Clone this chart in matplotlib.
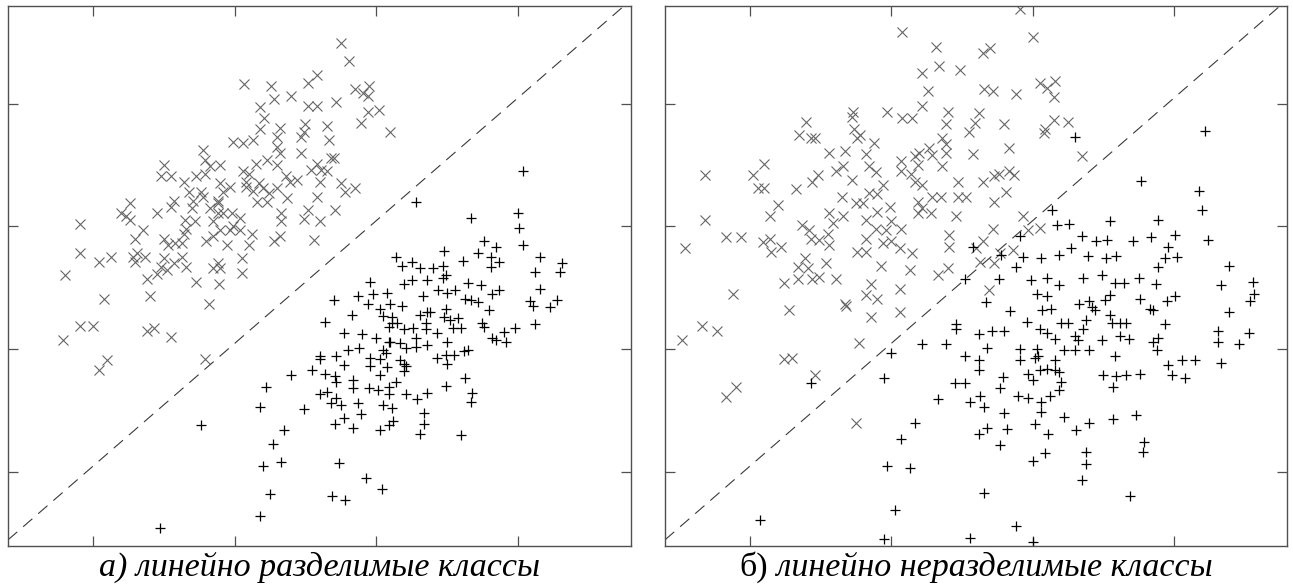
import matplotlib.pyplot as plt
import numpy as np

# Panel a): linearly separable classes (x = class 1, + = class 2)
sep_cross = np.array([
    (2.07, 4.16), (2.26, 4.14), (2.28, 4.04), (2.40, 4.06), (2.18, 3.97), (2.21, 3.88),
    (2.18, 3.79), (2.32, 3.80), (1.99, 3.69), (2.06, 3.68), (2.13, 3.70), (2.30, 3.73),
    (2.30, 3.65), (2.32, 3.60), (1.78, 3.62), (1.79, 3.54), (1.83, 3.49), (1.90, 3.50),
    (1.79, 3.43), (1.50, 3.50), (1.55, 3.41), (1.48, 3.41), (1.64, 3.36), (1.73, 3.41),
    (1.68, 3.28), (1.76, 3.28), (1.90, 3.35), (1.88, 3.21), (1.92, 3.28), (1.97, 3.32),
    (2.06, 3.45), (2.10, 3.43), (2.15, 3.51), (2.23, 3.54), (2.30, 3.50), (2.36, 3.41),
    (2.39, 3.36), (2.17, 3.35), (2.13, 3.29), (2.20, 3.31), (2.24, 3.27), (2.30, 3.31),
    (2.16, 3.20), (2.23, 3.20), (2.37, 3.23), (2.08, 3.32), (2.08, 3.36), (1.26, 3.19),
    (1.20, 3.11), (1.23, 3.08), (1.26, 3.05), (1.45, 3.11), (1.55, 3.16), (1.57, 3.21),
    (1.70, 3.15), (1.71, 3.21), (1.78, 3.24), (1.83, 3.15), (1.88, 3.19), (1.88, 3.11),
    (1.92, 3.11), (1.98, 3.11), (2.04, 3.07), (1.65, 3.05), (1.66, 2.98), (1.72, 3.04),
    (1.85, 3.04), (1.90, 2.97), (1.97, 2.97), (1.99, 3.00), (2.04, 2.97), (2.12, 2.94),
    (2.10, 2.85), (1.95, 2.85), (1.80, 2.88), (1.85, 2.92), (2.33, 3.11), (2.33, 3.04),
    (2.32, 2.92), (2.28, 2.88), (0.91, 3.02), (1.30, 2.90), (1.35, 2.97), (1.50, 2.90),
    (1.53, 2.85), (1.58, 2.86), (1.63, 2.86), (1.64, 2.94), (0.91, 2.78), (1.04, 2.71),
    (1.13, 2.75), (1.28, 2.75), (1.31, 2.78), (1.37, 2.75), (1.30, 2.71), (1.50, 2.74),
    (1.48, 2.67), (1.57, 2.70), (1.63, 2.75), (1.66, 2.67), (1.52, 2.64), (1.88, 2.70),
    (1.90, 2.66), (1.85, 2.66), (2.05, 2.74), (2.05, 2.62), (1.45, 2.61),
    (0.80, 2.60), (1.38, 2.57), (1.73, 2.55), (1.89, 2.53), (1.08, 2.41), (1.40, 2.43),
    (1.82, 2.37), (0.91, 2.19), (1.00, 2.19), (0.79, 2.07), (1.38, 2.15), (1.43, 2.17),
    (1.55, 2.10), (1.04, 1.83), (1.10, 1.91), (1.79, 1.92),
    (2.75, 4.49), (2.81, 4.35), (2.58, 4.23), (2.52, 4.17), (2.85, 4.12), (2.91, 4.09),
    (2.95, 4.14), (2.94, 4.06), (2.52, 3.98), (2.58, 3.98), (2.72, 4.01), (2.94, 3.93),
    (3.02, 3.95), (2.89, 3.84), (2.50, 3.83), (2.47, 3.73), (2.49, 3.77), (2.65, 3.82),
    (2.67, 3.70), (3.10, 3.77), (2.47, 3.60), (2.58, 3.51), (2.68, 3.56), (2.70, 3.56),
    (2.54, 3.46), (2.61, 3.46), (2.65, 3.45), (2.44, 3.38), (2.60, 3.36), (2.75, 3.35),
    (2.78, 3.28), (2.85, 3.31), (2.58, 3.24), (2.52, 3.13), (2.71, 3.13), (2.49, 3.06),
    (2.60, 3.04), (2.56, 2.89),
])

sep_plus = np.array([
    (4.04, 3.45), (3.28, 3.20), (3.67, 3.07), (4.00, 3.11), (4.01, 2.99), (4.04, 2.85),
    (3.76, 2.88), (3.85, 2.83), (3.48, 2.80), (3.14, 2.75), (3.25, 2.71), (3.18, 2.68),
    (3.31, 2.66), (3.40, 2.66), (3.47, 2.68), (3.61, 2.72), (3.72, 2.78), (3.81, 2.75),
    (3.87, 2.71), (3.81, 2.67), (4.16, 2.75), (4.12, 2.63), (4.31, 2.70), (4.30, 2.63),
    (2.40, 1.79), (2.22, 1.69), (2.18, 1.53), (1.76, 1.38), (2.35, 1.34), (2.27, 1.23),
    (2.33, 1.08), (2.20, 1.05), (2.25, 0.82), (2.18, 0.64), (1.47, 0.54),
    (2.96, 2.55), (3.20, 2.53), (3.25, 2.56), (3.36, 2.56), (3.47, 2.58), (3.49, 2.60),
    (3.65, 2.54), (3.74, 2.52), (2.70, 2.40), (2.87, 2.43), (2.94, 2.37), (2.98, 2.45),
    (3.08, 2.46), (3.03, 2.33), (3.10, 2.37), (3.18, 2.35), (3.33, 2.43), (3.44, 2.48),
    (3.50, 2.46), (3.56, 2.48), (3.63, 2.41), (3.67, 2.40), (3.72, 2.38), (3.82, 2.45),
    (3.87, 2.48), (3.80, 2.32), (4.09, 2.39), (4.11, 2.35), (4.16, 2.49), (4.28, 2.40),
    (4.23, 2.34), (4.12, 2.20), (2.83, 2.28), (2.64, 2.22), (3.05, 2.27), (3.11, 2.26),
    (3.11, 2.21), (3.09, 2.18), (3.15, 2.21), (3.20, 2.16), (3.26, 2.17), (3.31, 2.28),
    (3.36, 2.30), (3.38, 2.30), (3.35, 2.21), (3.35, 2.16), (3.43, 2.13), (3.49, 2.33),
    (3.48, 2.26), (3.52, 2.24), (3.54, 2.17), (3.58, 2.25), (3.60, 2.17), (3.75, 2.21),
    (3.76, 2.18), (3.82, 2.09), (3.85, 2.07), (3.92, 2.06), (3.90, 2.14), (3.98, 2.17),
    (2.77, 2.13), (2.90, 2.12), (3.00, 2.09), (3.09, 2.06), (3.10, 2.06), (3.17, 2.05),
    (3.21, 2.01), (3.28, 2.09), (3.28, 2.02), (3.36, 2.03), (3.50, 2.06), (3.43, 1.93),
    (3.49, 1.95), (3.50, 1.88), (3.55, 1.95), (3.62, 1.98), (3.65, 1.99), (2.60, 1.94),
    (2.60, 1.92), (2.72, 1.94), (2.77, 1.87), (2.80, 1.99), (2.88, 2.01), (2.96, 1.93),
    (2.96, 1.86), (3.05, 1.99), (3.03, 1.92), (3.07, 1.97), (3.08, 1.85), (3.17, 1.91),
    (3.20, 1.88), (3.21, 1.86), (3.20, 1.82), (3.03, 1.79), (2.55, 1.83), (2.64, 1.80),
    (2.71, 1.78), (2.72, 1.73), (2.84, 1.75), (2.84, 1.68), (2.95, 1.68), (3.01, 1.67),
    (3.09, 1.69), (3.09, 1.63), (3.14, 1.73), (3.21, 1.63), (3.29, 1.59), (3.36, 1.64),
    (3.49, 1.70), (3.63, 1.76), (3.68, 1.64), (3.67, 1.57), (2.60, 1.63), (2.65, 1.65),
    (2.68, 1.56), (2.72, 1.60), (2.75, 1.54), (2.87, 1.56), (2.89, 1.47), (3.05, 1.54),
    (3.11, 1.52), (2.49, 1.51), (2.71, 1.39), (2.77, 1.44), (2.84, 1.36), (3.03, 1.34),
    (3.09, 1.38), (3.12, 1.41), (3.34, 1.48), (3.34, 1.39), (3.31, 1.31), (3.60, 1.30),
    (2.74, 1.07), (2.93, 0.95), (3.04, 0.86), (2.69, 0.80), (2.78, 0.77),
])

# Panel б): linearly non-separable classes
nonsep_cross = np.array([
    (2.08, 4.58), (2.32, 4.46), (2.34, 4.31), (2.49, 4.27), (2.22, 4.25), (2.26, 4.10),
    (2.22, 3.98), (1.73, 3.93), (1.72, 3.89), (1.97, 3.93), (2.08, 3.88), (2.15, 3.88),
    (2.40, 3.93), (2.39, 3.83), (2.55, 3.77), (1.40, 3.85), (1.35, 3.74), (1.43, 3.72),
    (1.46, 3.72), (1.74, 3.79), (1.76, 3.72), (1.78, 3.74), (1.88, 3.68), (1.82, 3.59),
    (1.56, 3.60), (1.67, 3.61), (2.36, 3.72), (2.39, 3.67), (2.39, 3.60), (2.20, 3.60),
    (2.17, 3.57), (2.27, 3.64), (2.29, 3.58), (2.36, 3.49), (2.07, 3.53), (2.07, 3.45),
    (2.14, 3.43), (2.19, 3.50), (1.84, 3.49), (1.89, 3.44), (1.66, 3.49), (1.61, 3.45),
    (1.72, 3.38), (1.48, 3.42), (1.44, 3.36), (1.33, 3.30), (1.10, 3.51), (1.02, 3.42),
    (1.06, 3.31), (1.10, 3.31), (0.68, 3.42), (0.68, 3.05), (1.20, 3.17), (1.14, 3.08),
    (1.65, 3.24), (1.75, 3.19), (1.80, 3.19), (1.84, 3.27), (1.90, 3.26), (1.94, 3.34),
    (1.99, 3.16), (1.90, 3.12), (2.17, 3.36), (2.22, 3.34), (2.47, 3.36), (2.47, 3.24),
    (2.53, 3.24), (2.35, 3.24), (2.29, 3.24), (2.19, 3.20), (2.19, 3.11), (2.28, 3.11),
    (2.22, 3.15), (2.46, 3.08), (1.56, 3.11), (1.59, 3.03), (1.66, 3.08), (1.82, 3.05),
    (1.89, 2.98), (1.96, 2.97), (2.00, 3.04), (2.07, 2.98), (1.37, 3.01), (1.42, 2.97),
    (1.43, 2.90), (1.49, 2.89), (1.55, 2.94), (1.56, 2.85), (1.82, 2.90), (1.94, 2.86),
    (2.00, 2.88), (2.06, 2.82), (2.15, 2.78), (2.41, 2.93), (2.41, 2.83), (0.83, 2.91),
    (0.94, 2.91), (0.54, 2.82), (1.09, 2.87), (1.14, 2.90), (1.15, 2.79), (1.22, 2.83),
    (1.76, 2.79), (1.82, 2.79), (1.39, 2.74), (1.34, 2.67), (1.41, 2.66), (1.54, 2.70),
    (1.93, 2.68), (2.13, 2.64), (2.40, 2.66),
    (1.24, 2.54), (1.34, 2.57), (1.44, 2.57), (1.49, 2.59), (1.61, 2.57), (1.86, 2.53),
    (1.82, 2.44), (1.90, 2.41), (2.06, 2.49), (2.33, 2.60), (0.88, 2.45), (1.28, 2.32),
    (1.67, 2.37), (1.68, 2.35), (1.86, 2.26), (2.06, 2.30), (0.66, 2.19), (0.77, 2.15),
    (0.52, 2.07), (1.77, 2.05), (1.24, 1.92), (1.30, 1.93), (1.46, 1.79), (0.90, 1.69),
    (0.83, 1.61), (1.75, 1.40),
    (2.91, 4.77), (3.00, 4.54), (2.65, 4.41), (2.70, 4.45), (2.66, 4.12), (2.72, 4.10),
    (2.88, 4.08), (3.05, 4.17), (3.10, 4.13), (3.16, 4.18), (3.15, 4.05), (2.62, 3.92),
    (2.59, 3.84), (2.80, 3.83), (3.08, 3.76), (3.09, 3.79), (3.15, 3.87), (3.25, 3.85),
    (2.83, 3.64), (2.58, 3.59), (3.35, 3.57), (2.65, 3.36), (2.73, 3.41), (2.76, 3.43),
    (2.83, 3.45), (2.87, 3.42), (2.73, 3.20), (2.81, 3.28), (2.93, 3.08), (2.72, 2.98),
    (2.97, 2.97), (3.05, 2.99), (2.65, 2.88), (2.60, 2.82), (2.77, 2.78), (2.86, 2.81),
    (2.73, 2.70), (2.63, 2.71), (2.69, 2.48),
])

nonsep_plus = np.array([
    (2.52, 2.57), (2.46, 2.20), (2.46, 2.16), (2.22, 2.04), (2.39, 2.04), (2.00, 1.97),
    (2.52, 1.94), (1.95, 1.76), (2.45, 1.72), (2.52, 1.72), (2.33, 1.59), (2.56, 1.57),
    (2.17, 1.40), (2.07, 1.27), (1.97, 1.05), (2.13, 1.03), (2.03, 0.69), (1.07, 0.61),
    (1.95, 0.45), (2.56, 0.46), (1.43, 1.72),
    (3.30, 3.73), (4.22, 3.78), (3.77, 3.37), (4.18, 3.29), (4.20, 3.13), (3.14, 3.13),
    (3.17, 3.01), (3.26, 3.02), (3.55, 3.04), (3.89, 3.05), (2.91, 2.92), (3.35, 2.92),
    (3.45, 2.88), (3.53, 2.89), (3.71, 2.88), (3.84, 2.91), (4.01, 2.93), (3.96, 2.83),
    (2.58, 2.83), (2.78, 2.77), (2.93, 2.75), (3.06, 2.74), (3.19, 2.77), (3.27, 2.82),
    (3.39, 2.76), (3.52, 2.74), (3.59, 2.76), (3.89, 2.67), (3.94, 2.74), (4.02, 2.75),
    (4.24, 2.89), (4.39, 2.68), (2.88, 2.67),
    (2.76, 2.57), (2.99, 2.56), (3.10, 2.58), (3.19, 2.52), (3.36, 2.58), (3.49, 2.60),
    (3.58, 2.54), (3.65, 2.54), (3.75, 2.58), (3.87, 2.53), (4.33, 2.52), (4.56, 2.55),
    (4.57, 2.45), (4.54, 2.39), (3.03, 2.45), (3.10, 2.43), (2.67, 2.38), (2.84, 2.31),
    (3.07, 2.32), (3.13, 2.33), (3.33, 2.37), (3.40, 2.39), (3.42, 2.34), (3.44, 2.32),
    (3.51, 2.40), (3.55, 2.44), (3.76, 2.41), (3.83, 2.33), (3.85, 2.32), (3.95, 2.39),
    (4.01, 2.43), (4.39, 2.30), (2.96, 2.22), (3.20, 2.21), (3.25, 2.21), (3.38, 2.24),
    (3.36, 2.16), (3.55, 2.28), (3.56, 2.21), (3.62, 2.21), (3.66, 2.21), (3.94, 2.20),
    (3.05, 2.16), (3.10, 2.13), (3.16, 2.08), (3.30, 2.11), (3.32, 2.07), (3.49, 2.07),
    (3.62, 2.11), (3.68, 2.08), (3.85, 2.06), (3.89, 2.09), (3.88, 1.99), (4.31, 2.15),
    (4.31, 2.06), (4.46, 2.04), (4.53, 2.13), (2.62, 2.12), (2.71, 2.15), (2.80, 2.15),
    (2.68, 2.01), (2.91, 2.00), (3.03, 2.00), (3.04, 1.94), (3.22, 1.99), (3.30, 1.99),
    (3.40, 1.99), (3.58, 1.94), (2.62, 1.91), (2.62, 1.83), (2.91, 1.91), (3.02, 1.93),
    (2.97, 1.80), (3.00, 1.75), (3.05, 1.83), (3.10, 1.84), (3.16, 1.91), (3.16, 1.83),
    (3.19, 1.81), (3.20, 1.73), (3.19, 1.67), (3.50, 1.79), (3.59, 1.78), (3.66, 1.79),
    (3.76, 1.80), (3.96, 1.87), (3.99, 1.79), (4.06, 1.91), (4.15, 1.91), (4.08, 1.76),
    (4.33, 1.89), (2.79, 1.77), (2.77, 1.68), (3.57, 1.69), (2.63, 1.62), (2.66, 1.53),
    (2.90, 1.62), (2.97, 1.60), (3.06, 1.57), (3.12, 1.62), (3.06, 1.49), (3.22, 1.45),
    (3.40, 1.40), (3.31, 1.34), (3.57, 1.43), (3.73, 1.46), (2.80, 1.48), (2.62, 1.31),
    (2.68, 1.36), (2.82, 1.35), (2.77, 1.22), (3.02, 1.39), (3.11, 1.31), (3.00, 1.09),
    (3.09, 1.15), (3.79, 1.24), (3.78, 1.16), (3.38, 1.16), (3.38, 1.06), (3.35, 0.93),
    (2.66, 0.83), (3.69, 0.80), (2.88, 0.56), (3.00, 0.43),
])

ticks = [1, 2, 3, 4]
x_range = (0.40, 4.80)
y_range = (0.395, 4.795)
boundary_intercept = 0.045  # dashed separating line y = x + b
captions = [
    [("а) линейно разделимые классы", "italic")],
    [("б)", "normal"), (" линейно неразделимые классы", "italic")],
]

plt.rcParams["font.family"] = ["Liberation Serif", "DejaVu Serif"]

fig = plt.figure(figsize=(12.93, 5.87), dpi=100)
ax_left = fig.add_axes([8 / 1293, 41 / 587, 623 / 1293, 540 / 587])
ax_right = fig.add_axes([665 / 1293, 41 / 587, 622 / 1293, 540 / 587])

panels = [(ax_left, sep_cross, sep_plus), (ax_right, nonsep_cross, nonsep_plus)]
for ax, cross, plus in panels:
    ax.plot(cross[:, 0], cross[:, 1], linestyle="none", marker="x",
            markersize=7, markeredgewidth=0.8, color="#666666")
    ax.plot(plus[:, 0], plus[:, 1], linestyle="none", marker="+",
            markersize=7.5, markeredgewidth=0.9, color="black")
    ax.axline((0, boundary_intercept), slope=1, color="#3a3a3a",
              linewidth=0.8, linestyle=(0, (11, 7)))

    ax.set_xlim(*x_range)
    ax.set_ylim(*y_range)
    ax.set_xticks(ticks)
    ax.set_yticks(ticks)
    ax.tick_params(direction="in", length=7, width=0.9, color="#505050",
                   top=True, right=True, labelbottom=False, labelleft=False)
    for spine in ax.spines.values():
        spine.set_color("#505050")
        spine.set_linewidth(1.0)

# captions under each panel, centred, mixing upright and italic parts
renderer = fig.canvas.get_renderer()
for ax, parts in zip([ax_left, ax_right], captions):
    pos = ax.get_position()
    centre = (pos.x0 + pos.x1) / 2
    texts = [fig.text(0, 11 / 587, s, fontstyle=st, fontsize=24.5, va="baseline")
             for s, st in parts]
    widths = [t.get_window_extent(renderer).width / fig.bbox.width for t in texts]
    x = centre - sum(widths) / 2
    for t, w in zip(texts, widths):
        t.set_x(x)
        x += w

fig.savefig("out.png", dpi=100)
